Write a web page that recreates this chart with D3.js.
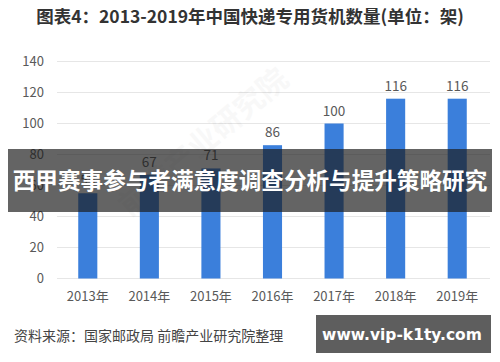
<!DOCTYPE html>
<html lang="zh">
<head>
<meta charset="UTF-8">
<title>快递专用货机数量</title>
<script src="https://d3js.org/d3.v7.min.js"></script>
<style>
  body { margin: 0; background: #fff; }
  svg { display: block; font-family: "Noto Sans CJK SC", "Noto Sans", sans-serif; }
</style>
</head>
<body>
<svg></svg>
<script>
// data
const years = ["2013年", "2014年", "2015年", "2016年", "2017年", "2018年", "2019年"];
const planes = [55, 67, 71, 86, 100, 116, 116];
const yTicks = [0, 20, 40, 60, 80, 100, 120, 140];

const width = 500, height = 362;
const svg = d3.select("svg").attr("width", width).attr("height", height);

svg.append("rect").attr("width", width).attr("height", height).attr("fill", "#fff");

// title
svg.append("text")
    .attr("x", 250).attr("y", 23)
    .attr("text-anchor", "middle")
    .attr("font-size", 17.5).attr("font-weight", "bold")
    .attr("fill", "#333")
    .text("图表4：2013-2019年中国快递专用货机数量(单位：架)");

const x = d3.scaleBand().domain(years).range([57, 488]).paddingInner(0.69).paddingOuter(0.345);
const y = d3.scaleLinear().domain([0, 140]).range([278.5, 61.5]);

// gridlines
svg.append("g")
    .selectAll("line")
    .data(yTicks)
    .join("line")
    .attr("x1", 57).attr("x2", 490)
    .attr("y1", d => y(d)).attr("y2", d => y(d))
    .attr("stroke", "#e6e6e6").attr("stroke-width", 1);

// y axis labels
const yAxis = svg.append("g")
    .attr("transform", "translate(44,0)")
    .call(d3.axisLeft(y).tickValues(yTicks).tickSize(0).tickPadding(0));
yAxis.select(".domain").remove();
yAxis.selectAll("text").attr("font-size", 13).attr("fill", "#595959")
    .attr("font-family", "'Noto Sans CJK SC', sans-serif");

// watermark
svg.append("text")
    .attr("transform", "translate(210,150) rotate(-40)")
    .attr("text-anchor", "middle")
    .attr("font-size", 30).attr("font-weight", "bold")
    .attr("fill", "#000").attr("opacity", 0.025)
    .text("前瞻产业研究院");

// bars
svg.append("g")
    .selectAll("rect")
    .data(planes)
    .join("rect")
    .attr("x", (d, i) => x(years[i]))
    .attr("width", x.bandwidth())
    .attr("y", d => y(d))
    .attr("height", d => y(0) - y(d))
    .attr("fill", "#3b7fdb");

// value labels
svg.append("g")
    .selectAll("text")
    .data(planes)
    .join("text")
    .attr("x", (d, i) => x(years[i]) + x.bandwidth() / 2)
    .attr("y", d => y(d) - 8)
    .attr("text-anchor", "middle")
    .attr("font-size", 13.5).attr("fill", "#595959")
    .text(d => d);

// x axis labels
const xAxis = svg.append("g")
    .attr("transform", "translate(0,292)")
    .call(d3.axisBottom(x).tickSize(0).tickPadding(0));
xAxis.select(".domain").remove();
xAxis.selectAll("text").attr("font-size", 13).attr("fill", "#595959")
    .attr("font-family", "'Noto Sans CJK SC', sans-serif");

// source
svg.append("text")
    .attr("x", 14).attr("y", 341)
    .attr("font-size", 14).attr("fill", "#444")
    .text("资料来源：国家邮政局 前瞻产业研究院整理");

// overlay banner
svg.append("rect")
    .attr("x", 8).attr("y", 149).attr("width", 484).attr("height", 63)
    .attr("fill", "#1a1a1a").attr("opacity", 0.68);
svg.append("text")
    .attr("x", 250).attr("y", 189)
    .attr("text-anchor", "middle")
    .attr("font-size", 22.6).attr("font-weight", "bold")
    .attr("fill", "#fff")
    .text("西甲赛事参与者满意度调查分析与提升策略研究");

// bottom right box
svg.append("rect")
    .attr("x", 316).attr("y", 315).attr("width", 175).attr("height", 38)
    .attr("fill", "#5e5e5e");
svg.append("text")
    .attr("x", 402).attr("y", 339.5)
    .attr("text-anchor", "middle")
    .attr("font-size", 15.5).attr("font-weight", "bold")
    .attr("fill", "#fff")
    .attr("font-family", "'DejaVu Sans', sans-serif")
    .text("www.vip-k1ty.com");
</script>
</body>
</html>
